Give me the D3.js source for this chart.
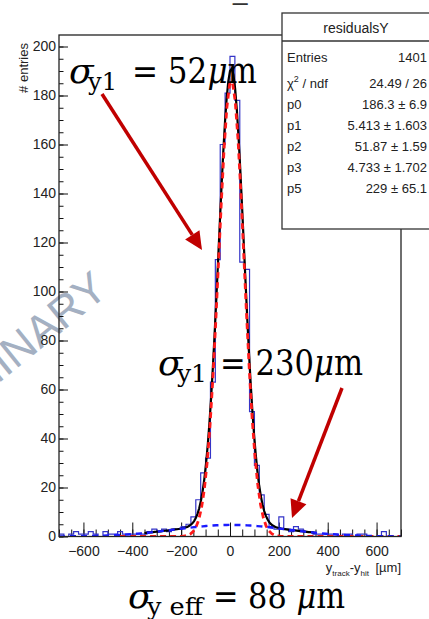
<!DOCTYPE html>
<html>
<head>
<meta charset="utf-8">
<script src="https://cdn.jsdelivr.net/npm/d3@7"></script>
<style>
  html, body { margin: 0; padding: 0; background: #fff; }
  svg { display: block; }
</style>
</head>
<body>
<svg id="chart" width="429" height="619"></svg>
<script>
// ---------------- data ----------------
const binStart = -700;
const binWidth = 20;
const counts = [
  1, 0, 1, 2, 1, 1, 2, 1, 0, 2,
  1, 1, 2, 1, 1, 1, 1, 1, 2, 3,
  2, 3, 2, 3, 3, 4, 5, 8, 15, 26,
  32, 63, 113, 160, 181, 196, 178, 112, 109, 51,
  29, 17, 9, 4, 3, 8, 3, 2, 4, 3,
  2, 2, 1, 1, 1, 1, 1, 0, 1, 1,
  0, 1, 1, 0, 0, 0, 2, 0, 0, 0
];
// fit parameters: core gaussian (p0,p1,p2), wide gaussian (p3, mean p1, p5)
const fitParams = { p0: 186.3, p1: 5.413, p2: 51.87, p3: 4.733, p5: 229 };
const fitRange = [-350, 350];
const coreRange = [-450, 700];
const wideRange = [-700, 700];

const xTickValues = [-600, -400, -200, 0, 200, 400, 600];
const xTickLabels = ["\u2212600", "\u2212400", "\u2212200", "0", "200", "400", "600"];
const yTickValues = [0, 20, 40, 60, 80, 100, 120, 140, 160, 180, 200];

const statsTitle = "residualsY";
const statsLabels = ["Entries", "chi2", "p0", "p1", "p2", "p3", "p5"];
const statsValues = ["1401", "24.49 / 26", "186.3 \u00b1 6.9", "5.413 \u00b1 1.603",
                     "51.87 \u00b1 1.59", "4.733 \u00b1 1.702", "229 \u00b1 65.1"];

// ---------------- setup ----------------
const svg = d3.select("#chart");
const X0 = 59, X1 = 401, YB = 536.5, YT = 35;
const x = d3.scaleLinear().domain([-700, 700]).range([X0, X1]);
const y = d3.scaleLinear().domain([0, 204.7]).range([YB, YT]);

const sans = "'Liberation Sans', Arial, Helvetica, sans-serif";
const serif = "'DejaVu Serif', 'Liberation Serif', serif";

// clipped title remnant at the very top
svg.append("text").attr("x", 233).attr("y", 0)
  .attr("font-family", sans).attr("font-size", 26).attr("fill", "#333").text("_");

// watermark (behind)
svg.append("text")
  .attr("transform", "translate(110,293) rotate(-39)")
  .attr("text-anchor", "end")
  .attr("font-family", sans)
  .attr("font-size", 44)
  .attr("fill", "#a4b0c2")
  .text("PRELIMINARY");

// ---------------- axes ----------------
const gx = svg.append("g").attr("transform", `translate(0,${YB})`);
gx.call(d3.axisBottom(x).tickValues(d3.range(-700, 701, 50)).tickSize(-7).tickFormat(""));
gx.call(g => g.select(".domain").remove());
const gx2 = svg.append("g").attr("transform", `translate(0,${YB})`);
gx2.call(d3.axisBottom(x).tickValues(xTickValues).tickSize(-14).tickPadding(10)
  .tickFormat((d, i) => xTickLabels[i]));
gx2.select(".domain").remove();
gx2.selectAll("text").attr("font-family", sans).attr("font-size", 14).attr("fill", "#222");

const gy = svg.append("g").attr("transform", `translate(${X0},0)`);
gy.call(d3.axisLeft(y).tickValues(d3.range(0, 204, 5)).tickSize(-4.5).tickFormat(""));
gy.select(".domain").remove();
const gy2 = svg.append("g").attr("transform", `translate(${X0},0)`);
gy2.call(d3.axisLeft(y).tickValues(yTickValues).tickSize(-9).tickPadding(3));
gy2.select(".domain").remove();
gy2.selectAll("text").attr("font-family", sans).attr("font-size", 14).attr("fill", "#222");
svg.selectAll(".tick line").attr("stroke", "#111").attr("stroke-width", 1);

// axis titles
svg.append("text")
  .attr("transform", "translate(28,43) rotate(-90)")
  .attr("text-anchor", "end")
  .attr("font-family", sans).attr("font-size", 13).attr("fill", "#222")
  .text("# entries");

const xt = svg.append("text")
  .attr("x", X1).attr("y", 572)
  .attr("text-anchor", "end")
  .attr("font-family", sans).attr("font-size", 13).attr("fill", "#222");
xt.append("tspan").text("y");
xt.append("tspan").attr("font-size", 8).attr("dy", 4).text("track");
xt.append("tspan").attr("dy", -4).text("-y");
xt.append("tspan").attr("font-size", 8).attr("dy", 4).text("hit");
xt.append("tspan").attr("dy", -4).text("\u2002[\u00b5m]");

// ---------------- histogram ----------------
svg.append("clipPath").attr("id", "plotclip")
  .append("rect").attr("x", X0).attr("y", YT).attr("width", X1 - X0).attr("height", YB - YT);

let hp = d3.path();
counts.forEach((c, i) => {
  const xa = x(binStart + i * binWidth), xb = x(binStart + (i + 1) * binWidth);
  if (i === 0) hp.moveTo(xa, y(c)); else hp.lineTo(xa, y(c));
  hp.lineTo(xb, y(c));
});
svg.append("path").attr("d", hp.toString())
  .attr("fill", "none").attr("stroke", "#3434c8").attr("stroke-width", 1.2)
  .attr("clip-path", "url(#plotclip)");

// ---------------- fit curves ----------------
const P = fitParams;
const core = v => P.p0 * Math.exp(-0.5 * Math.pow((v - P.p1) / P.p2, 2));
const wide = v => P.p3 * Math.exp(-0.5 * Math.pow((v - P.p1) / P.p5, 2));
const total = v => core(v) + wide(v);
const sample = (f, r) => d3.range(0, 101).map(k => {
  const v = r[0] + (r[1] - r[0]) * k / 100; return [v, f(v)];
});
const line = d3.line().x(d => x(d[0])).y(d => y(Math.min(d[1], 204.7)));

svg.append("path").attr("d", line(sample(total, fitRange)))
  .attr("fill", "none").attr("stroke", "#000").attr("stroke-width", 2.2)
  .attr("clip-path", "url(#plotclip)");
svg.append("path").attr("d", line(sample(core, coreRange)))
  .attr("fill", "none").attr("stroke", "#ff1a1a").attr("stroke-width", 2.8)
  .attr("stroke-dasharray", "6,4").attr("clip-path", "url(#plotclip)");
svg.append("path").attr("d", line(sample(wide, wideRange)))
  .attr("fill", "none").attr("stroke", "#1a1aff").attr("stroke-width", 2.4)
  .attr("stroke-dasharray", "6,5").attr("clip-path", "url(#plotclip)");

// frame
svg.append("rect").attr("x", X0).attr("y", YT).attr("width", X1 - X0).attr("height", YB - YT)
  .attr("fill", "none").attr("stroke", "#222").attr("stroke-width", 1.3);
svg.append("line").attr("x1", 282).attr("x2", X1).attr("y1", YT).attr("y2", YT).attr("stroke", "#777");

// ---------------- stats box ----------------
const sb = svg.append("g");
sb.append("rect").attr("x", 282).attr("y", 13).attr("width", 160).attr("height", 216)
  .attr("fill", "#fff").attr("stroke", "#333").attr("stroke-width", 1.3);
sb.append("line").attr("x1", 282).attr("x2", 429).attr("y1", 41).attr("y2", 41)
  .attr("stroke", "#333").attr("stroke-width", 1.3);
sb.append("text").attr("x", 356).attr("y", 33).attr("text-anchor", "middle")
  .attr("font-family", sans).attr("font-size", 14).attr("fill", "#222").text(statsTitle);
const rowY = [62, 88, 109, 130, 151, 172, 193];
statsLabels.forEach((lab, i) => {
  const t = sb.append("text").attr("x", 287).attr("y", rowY[i])
    .attr("font-family", sans).attr("font-size", 13).attr("fill", "#222");
  if (lab === "chi2") {
    t.append("tspan").text("\u03c7");
    t.append("tspan").attr("font-size", 9).attr("dy", -6).text("2");
    t.append("tspan").attr("dy", 6).text(" / ndf");
  } else t.text(lab);
  sb.append("text").attr("x", 427).attr("y", rowY[i]).attr("text-anchor", "end")
    .attr("font-family", sans).attr("font-size", 13).attr("fill", "#222").text(statsValues[i]);
});

// ---------------- annotations ----------------
const red = "#c00000";
function arrow(x1, y1, x2, y2) {
  const ang = Math.atan2(y2 - y1, x2 - x1), L = 18, W = 8.5;
  const bx = x2 - L * Math.cos(ang), by = y2 - L * Math.sin(ang);
  svg.append("line").attr("x1", x1).attr("y1", y1).attr("x2", bx).attr("y2", by)
    .attr("stroke", red).attr("stroke-width", 3.5);
  const px = -Math.sin(ang) * W, py = Math.cos(ang) * W;
  svg.append("path").attr("d", `M${x2},${y2}L${bx + px},${by + py}L${bx - px},${by - py}Z`)
    .attr("fill", red);
}
arrow(102, 94, 202, 250);
arrow(342, 388, 292, 518);

function mathLabel(xs, base, sub, subEnd, rest, restX, restEnd) {
  svg.append("text").attr("x", xs).attr("y", base)
    .attr("font-family", serif).attr("font-style", "italic").attr("font-size", 36)
    .attr("fill", "#000").text("\u03c3");
  svg.append("text").attr("x", xs + 19).attr("y", base + 7)
    .attr("font-family", serif).attr("font-size", 24).attr("fill", "#000")
    .attr("textLength", subEnd - xs - 19).attr("lengthAdjust", "spacingAndGlyphs").text(sub);
  const t = svg.append("text").attr("x", restX).attr("y", base)
    .attr("font-family", serif).attr("font-size", 35).attr("fill", "#000")
    .attr("textLength", restEnd - restX).attr("lengthAdjust", "spacingAndGlyphs");
  rest.forEach(p => t.append("tspan").attr("font-style", p.it ? "italic" : "normal").text(p.s));
}
mathLabel(69, 83, "y1", 117, [{ s: "= 52" }, { s: "\u03bc", it: true }, { s: "m" }], 132, 257);
mathLabel(158, 375, "y1", 207, [{ s: "= 230" }, { s: "\u03bc", it: true }, { s: "m" }], 220, 363);
mathLabel(128, 608, "y eff", 203, [{ s: "= 88 " }, { s: "\u03bc", it: true }, { s: "m" }], 213, 345);
</script>
</body>
</html>
